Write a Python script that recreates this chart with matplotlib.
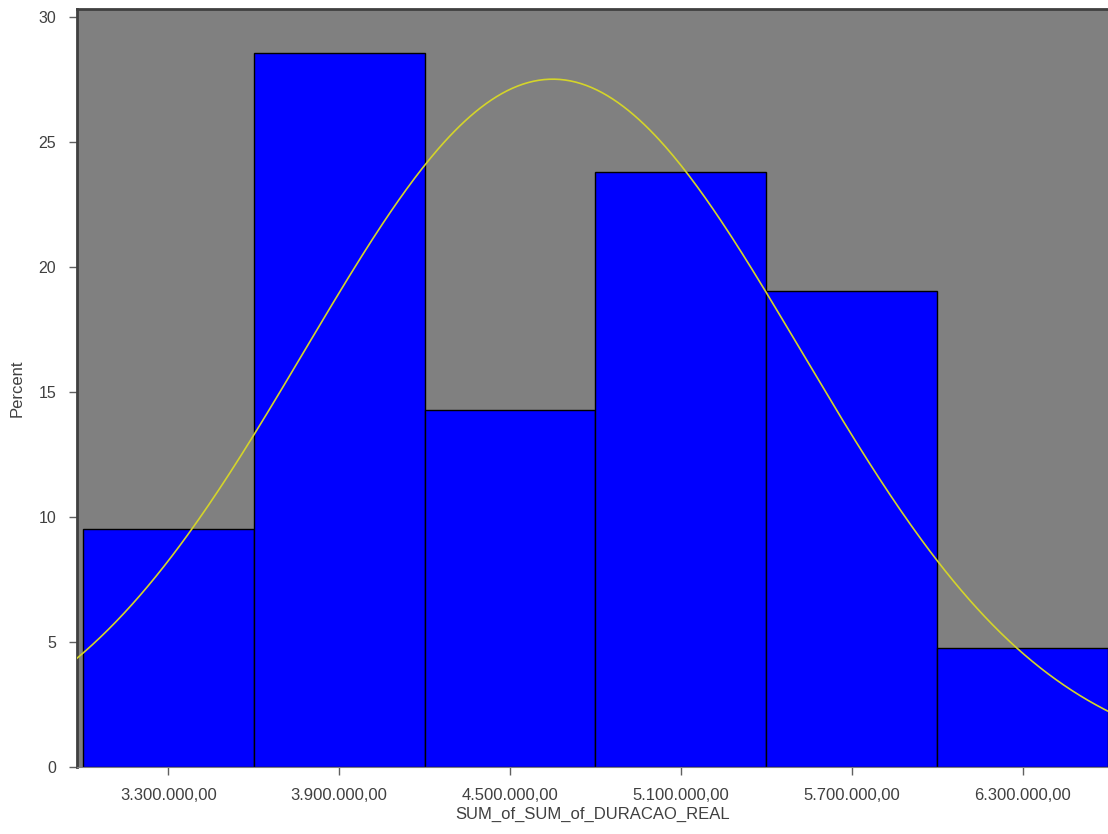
import numpy as np
from matplotlib import pyplot as plt

# histogram bins (centers) and percent of cases
bin_centers = [3300000, 3900000, 4500000, 5100000, 5700000, 6300000]
percent = [9.52, 28.57, 14.29, 23.81, 19.05, 4.76]
bin_width = 600000

# fitted normal curve parameters
curve_mean = 4650000
curve_sd = 870000

tick_labels = ["3.300.000,00", "3.900.000,00", "4.500.000,00",
               "5.100.000,00", "5.700.000,00", "6.300.000,00"]

plt.rcParams["font.family"] = ["Liberation Sans", "DejaVu Sans"]

fig = plt.figure(figsize=(11.08, 8.34), dpi=100)
ax = fig.add_axes([77 / 1108, 67 / 834, 1 - 77 / 1108, 758 / 834])
ax.set_facecolor("#808080")

ax.bar(bin_centers, percent, width=bin_width, color="#0000ff",
       edgecolor="black", linewidth=1.0, zorder=2)

xs = np.linspace(2950000, 6650000, 400)
ys = 100 * bin_width / (curve_sd * np.sqrt(2 * np.pi)) * np.exp(-0.5 * ((xs - curve_mean) / curve_sd) ** 2)
ax.plot(xs, ys, color="#d4d42a", linewidth=1.2, zorder=3)

ax.set_xlim(2979000, 6600000)
ax.set_ylim(0, 30.32)
ax.set_xticks(bin_centers)
ax.set_xticklabels(tick_labels)
ax.set_yticks([0, 5, 10, 15, 20, 25, 30])

ax.tick_params(axis="both", direction="out", length=6, width=1,
               color="#606060", labelcolor="#404040", labelsize=12)
ax.tick_params(axis="x", pad=9)
ax.tick_params(axis="y", pad=9, labelsize=11.5)

ax.spines["right"].set_visible(False)
ax.spines["left"].set_color("#404040")
ax.spines["top"].set_color("#404040")
ax.spines["left"].set_linewidth(2)
ax.spines["top"].set_linewidth(2)
ax.spines["bottom"].set_color("#808080")

ax.set_xlabel("SUM_of_SUM_of_DURACAO_REAL", fontsize=12, color="#404040", labelpad=3)
ax.set_ylabel("Percent", fontsize=12, color="#404040", labelpad=10)

plt.savefig("out.png", dpi=100)
